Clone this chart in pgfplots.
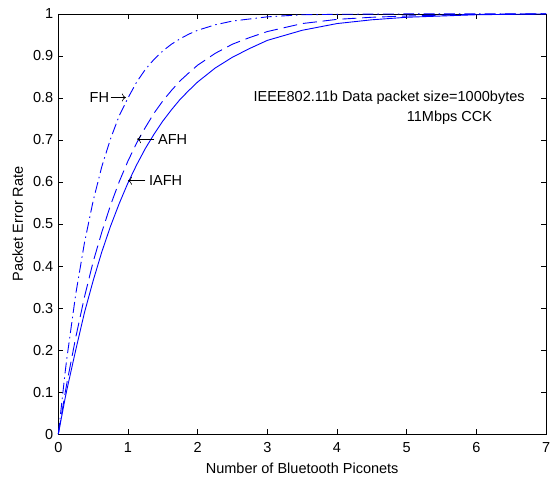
\documentclass[border=0pt]{standalone}
\usepackage{fontspec}
\setmainfont{Liberation Sans}
\usepackage{pgfplots}
\usepackage{pgfplotstable}
\usetikzlibrary{arrows.meta}
\pgfplotsset{compat=1.18}
\pgfplotstableread{
x y
0 0
0.1 0.15
0.125 0.183
0.25 0.333
0.375 0.455
0.5 0.555
0.625 0.637
0.75 0.703
0.875 0.758
1.0 0.80
1.125 0.838
1.25 0.868
1.375 0.892
1.5 0.912
1.625 0.928
1.75 0.941
1.875 0.952
2.0 0.961
2.25 0.974
2.5 0.983
2.75 0.988
3.0 0.993
3.5 0.998
4.0 0.999
5.0 1.0
7.0 1.0
}\fhdata
\pgfplotstableread{
x y
0 0
0.1 0.10
0.125 0.123
0.25 0.23
0.375 0.326
0.5 0.41
0.625 0.481
0.75 0.545
0.875 0.601
1.0 0.65
1.125 0.693
1.25 0.73
1.375 0.764
1.5 0.793
1.625 0.818
1.75 0.841
1.875 0.86
2.0 0.878
2.25 0.906
2.5 0.928
2.75 0.944
3.0 0.958
3.5 0.977
4.0 0.987
4.5 0.992
5.0 0.995
5.5 0.997
6.0 0.999
7.0 1.0
}\afhdata
\pgfplotstableread{
x y
0 0
0.1 0.087
0.125 0.107
0.25 0.20
0.375 0.289
0.5 0.365
0.625 0.434
0.75 0.495
0.875 0.549
1.0 0.598
1.125 0.641
1.25 0.68
1.375 0.714
1.5 0.745
1.625 0.772
1.75 0.797
1.875 0.818
2.0 0.838
2.25 0.871
2.5 0.897
2.75 0.918
3.0 0.937
3.5 0.961
4.0 0.977
4.5 0.986
5.0 0.992
5.5 0.995
6.0 0.998
6.5 0.999
7.0 1.0
}\iafhdata
\begin{document}
\fontsize{14.6bp}{17bp}\selectfont
\begin{tikzpicture}[annarrow/.style={-{To[length=4bp,width=8bp]}, line width=0.6bp}]
\begin{axis}[
  name=ax,
  scale only axis, width=491bp, height=423bp,
  xmin=0, xmax=7, ymin=0, ymax=1,
  xtick={0,1,2,3,4,5,6,7},
  ytick={0,0.1,0.2,0.3,0.4,0.5,0.6,0.7,0.8,0.9,1},
  tick align=inside, major tick length=5bp,
  /pgf/number format/assume math mode=true,
  tick label style={font=\fontsize{14.6bp}{17bp}\selectfont},
  xticklabel style={yshift=-3bp},
  axis line style={line width=0.8bp},
  tick style={line width=0.6bp, black},
  xlabel={Number of Bluetooth Piconets},
  ylabel={Packet Error Rate},
  xlabel style={at={(axis description cs:0.5,0)}, anchor=center, yshift=-34bp},
  ylabel style={at={(axis description cs:-0.0835,0.5)}, anchor=center},
  clip=false,
]
\addplot[blue, line width=0.9bp, dash pattern=on 11bp off 4bp on 1.5bp off 4bp] table[x=x,y=y] {\fhdata};
\addplot[blue, line width=0.9bp, dash pattern=on 14bp off 6bp] table[x=x,y=y] {\afhdata};
\addplot[blue, line width=0.9bp] table[x=x,y=y] {\iafhdata};
\node[anchor=east, inner sep=0] at (axis cs:0.73,0.801) {FH};
\draw[annarrow] (axis cs:0.75,0.801) -- (axis cs:0.97,0.801);
\node[anchor=west, inner sep=0] at (axis cs:1.43,0.702) {AFH};
\draw[annarrow] (axis cs:1.38,0.702) -- (axis cs:1.13,0.702);
\node[anchor=west, inner sep=0] at (axis cs:1.30,0.603) {IAFH};
\draw[annarrow] (axis cs:1.25,0.603) -- (axis cs:1.00,0.603);
\node[anchor=west, inner sep=0] at (axis cs:2.80,0.801) {IEEE802.11b Data packet size=1000bytes};
\node[anchor=west, inner sep=0] at (axis cs:5.00,0.752) {11Mbps CCK};
\end{axis}
\pgfresetboundingbox
\path ([xshift=-58.7bp,yshift=-46bp]ax.south west) rectangle ([xshift=6bp,yshift=14bp]ax.north east);
\end{tikzpicture}
\end{document}
